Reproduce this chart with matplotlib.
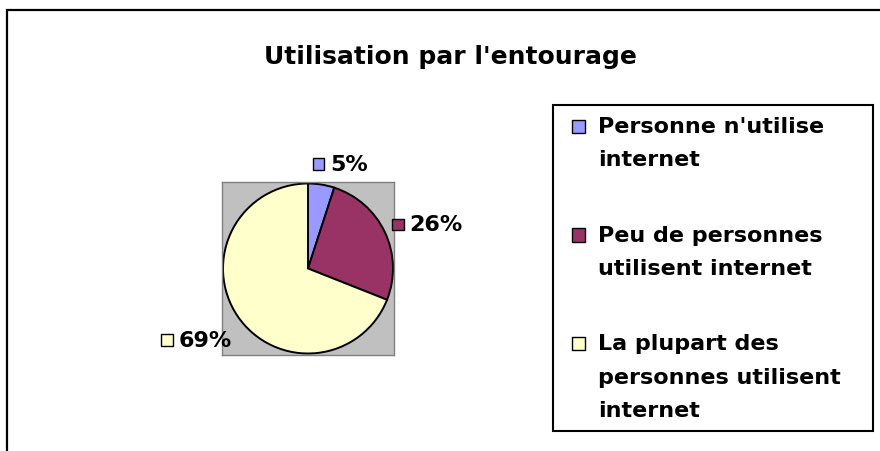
import matplotlib
matplotlib.use("Agg")
import numpy as np
import matplotlib.pyplot as plt
from matplotlib.patches import Patch, Rectangle
from matplotlib.legend_handler import HandlerPatch
from matplotlib.offsetbox import HPacker, TextArea, DrawingArea, AnnotationBbox

# data
categories = ["Personne n'utilise\ninternet",
              "Peu de personnes\nutilisent internet",
              "La plupart des\npersonnes utilisent\ninternet"]
shares = [5, 26, 69]
pct_labels = ["5%", "26%", "69%"]
colors = ["#9999FF", "#993366", "#FFFFCC"]

plt.rcParams['font.family'] = ['DejaVu Sans']
plt.rcParams['font.weight'] = 'bold'

W, H = 880, 452
fig = plt.figure(figsize=(W / 100, H / 100), dpi=100)

# outer chart border (only top and left visible)
fig.patches.append(Rectangle((7 / W, -0.1), 1.2, (H - 11) / H + 0.1,
                             transform=fig.transFigure, fill=False,
                             edgecolor='black', linewidth=1.6))

fig.text(450 / W, 1 - 57 / H, "Utilisation par l'entourage",
         ha='center', va='center', fontsize=18, fontweight='bold')

# plot area
ax = fig.add_axes([222 / W, (H - 356) / H, 172 / W, 173 / H])
wedges, _ = ax.pie(shares, colors=colors, startangle=90, counterclock=False,
                   radius=1, wedgeprops=dict(edgecolor='black', linewidth=1.4))
ax.set_frame_on(True)
ax.set_facecolor('#C0C0C0')
for s in ax.spines.values():
    s.set_edgecolor('#808080')
    s.set_linewidth(1)
ax.set_aspect('auto')
ax.set_xlim(-86 / 85, 86 / 85)
ax.set_ylim(-86.5 / 85, 86.5 / 85)
ax.set_xticks([])
ax.set_yticks([])

# data labels with legend key (nudges in points)
label_nudge = [(-8, 4), (-5, 1), (5, -11)]
for w, lab, c, nd in zip(wedges, pct_labels, colors, label_nudge):
    mid = np.deg2rad((w.theta1 + w.theta2) / 2)
    r = 1.18
    x, y = r * np.cos(mid), r * np.sin(mid)
    da = DrawingArea(8.5, 8.5, 0, 0)
    da.add_artist(Rectangle((0, 0), 8.5, 8.5, facecolor=c, edgecolor='black', linewidth=1))
    ta = TextArea(lab, textprops=dict(fontsize=16, fontweight='bold'))
    box = HPacker(children=[da, ta], align='center', pad=0, sep=4)
    ab = AnnotationBbox(box, (x, y), xycoords='data', xybox=nd,
                        boxcoords='offset points', frameon=False,
                        box_alignment=(0 if np.cos(mid) >= 0 else 1, 0.5),
                        annotation_clip=False)
    ax.add_artist(ab)


class TopKey(HandlerPatch):
    # square key drawn next to the first line of a multi-line label
    def __init__(self, shift):
        super().__init__()
        self.shift = shift

    def create_artists(self, legend, orig_handle, xdescent, ydescent,
                       width, height, fontsize, trans):
        side = 9.4
        p = Rectangle((-xdescent + width - side, -ydescent + (height - side) / 2 + self.shift),
                      side, side, facecolor=orig_handle.get_facecolor(),
                      edgecolor='black', linewidth=1, transform=trans)
        return [p]


# legend
fs = 16
line_pt = 23.8
handles = [Patch(facecolor=c, edgecolor='black') for c in colors]
hmap = {h: TopKey((lab.count("\n")) * line_pt / 2) for h, lab in zip(handles, categories)}
leg = fig.legend(handles, categories, loc='upper left', handler_map=hmap,
                 bbox_to_anchor=(553 / W, 0, 320 / W, 1 - 106 / H),
                 mode='expand', borderaxespad=0, frameon=True, fancybox=False,
                 edgecolor='black', framealpha=1, borderpad=0.5,
                 handlelength=0.95, handleheight=0.6, handletextpad=0.58,
                 labelspacing=2.5, prop=dict(size=fs, weight='bold'))
leg.get_frame().set_linewidth(1.5)
for t in leg.get_texts():
    t.set_linespacing(1.82)

fig.savefig("out.png", dpi=100)
